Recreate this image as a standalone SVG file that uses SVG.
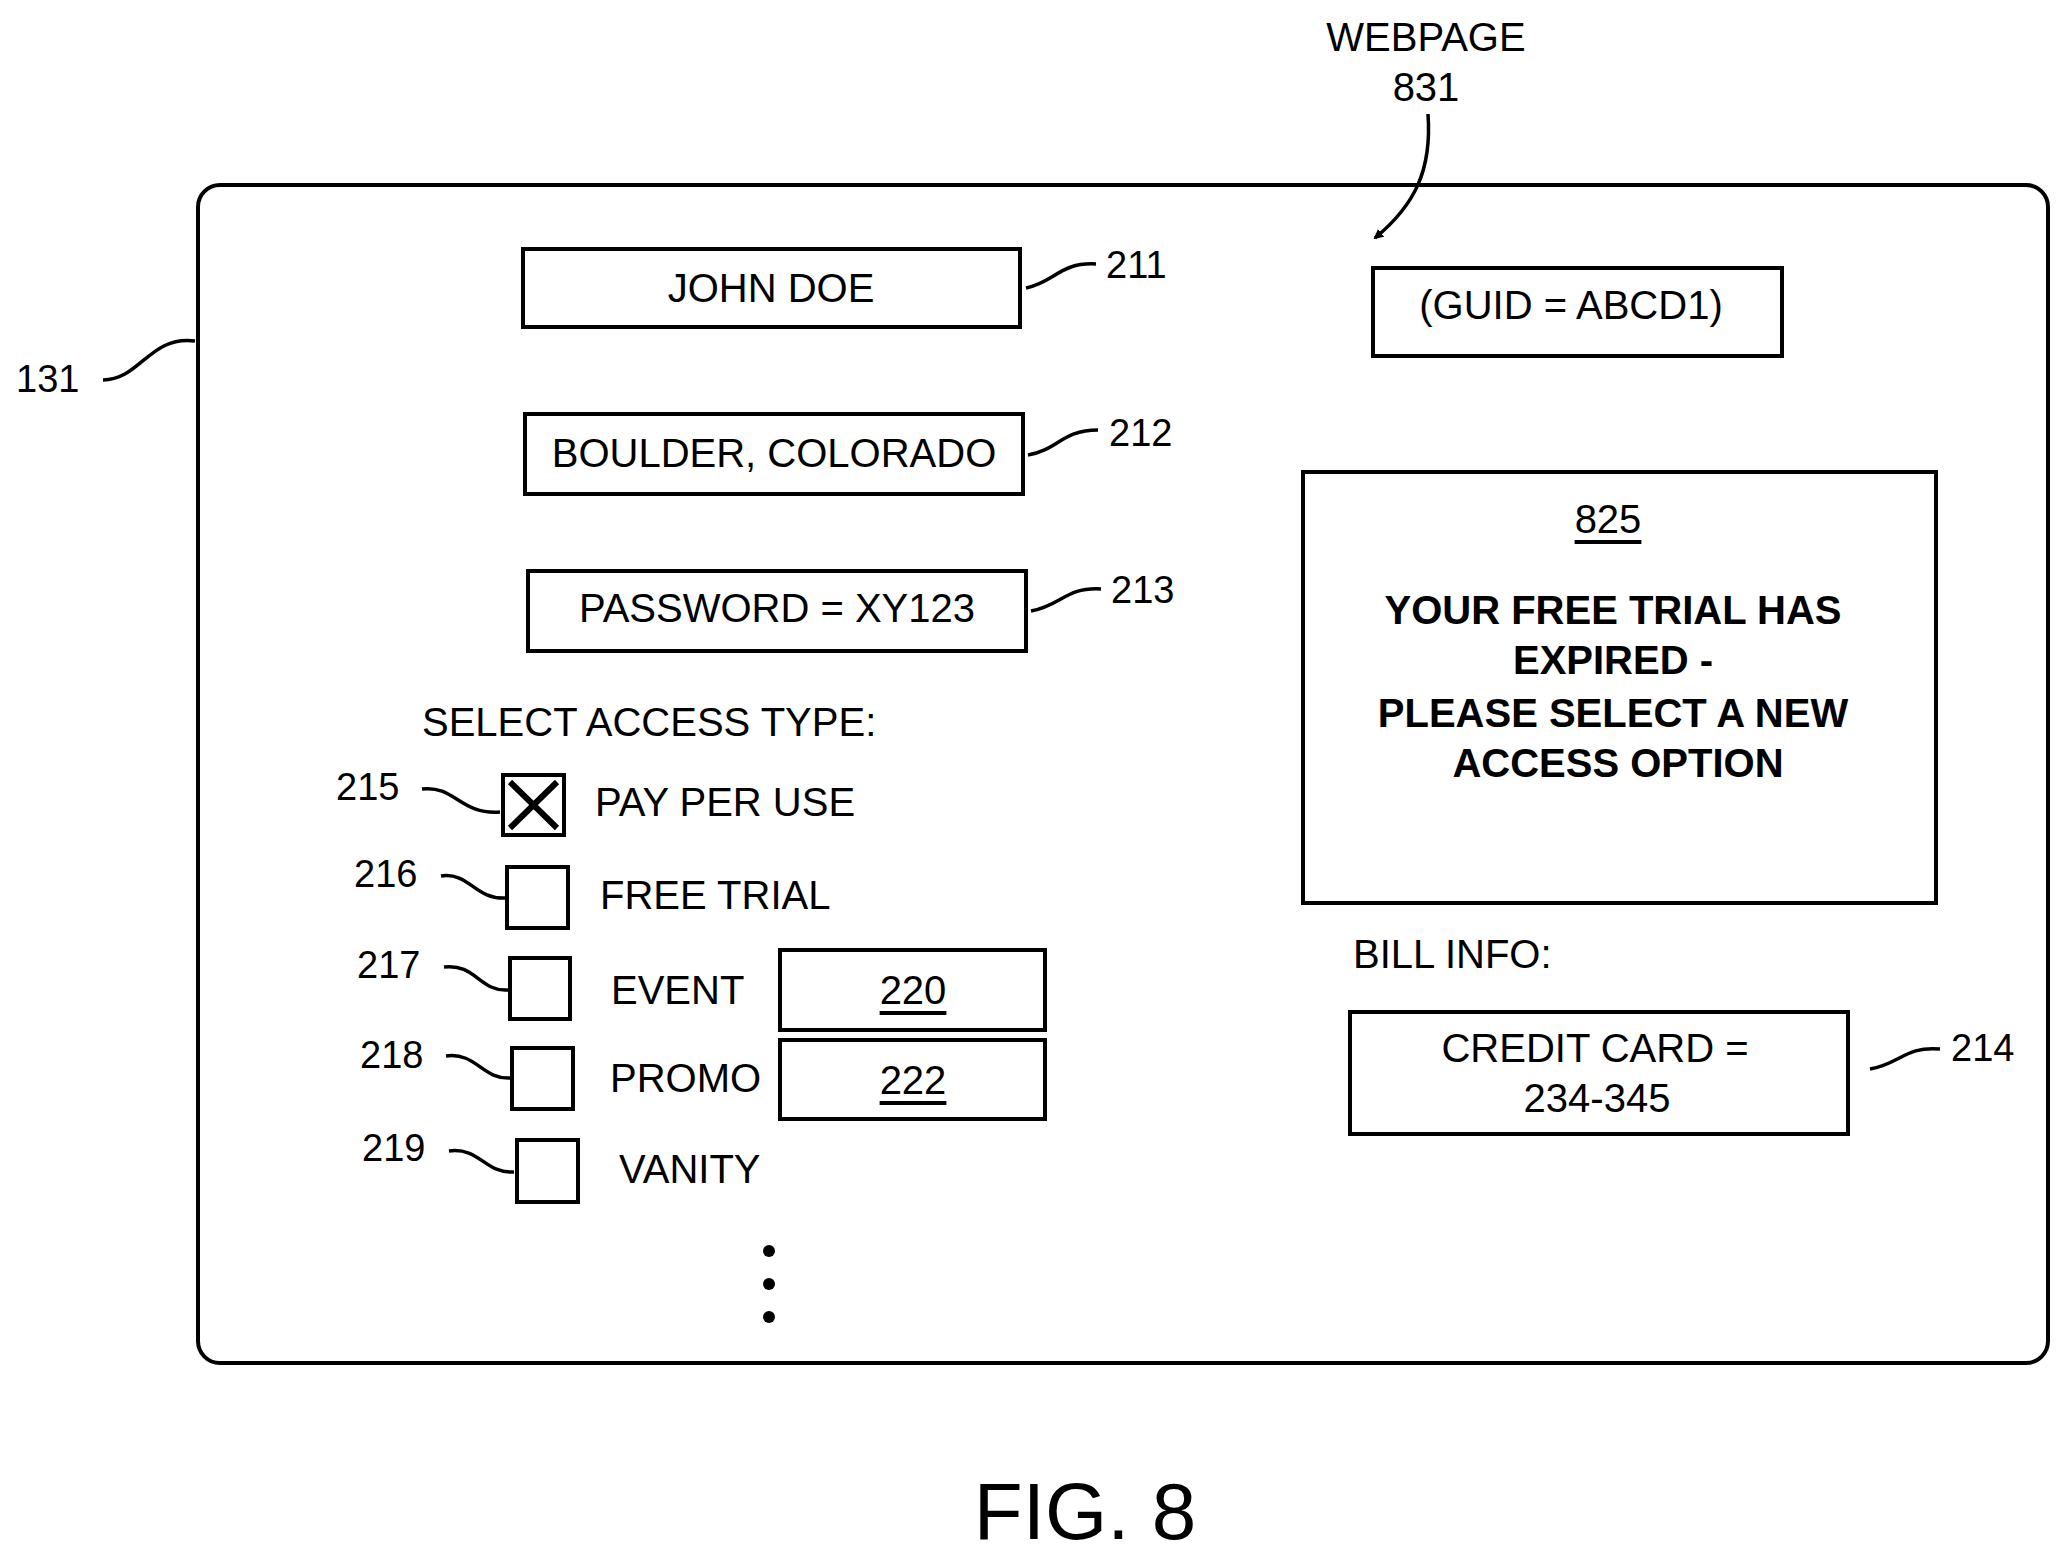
<svg xmlns="http://www.w3.org/2000/svg" width="2069" height="1558" viewBox="0 0 2069 1558">
<defs>
<style>
text{font-family:"Liberation Sans",Arial,sans-serif;fill:#000;dominant-baseline:central}
.t{font-size:40px}
.l{font-size:38px}
.b{font-size:40px;font-weight:bold;text-anchor:middle}
.m{text-anchor:middle}
.box{fill:#fff;stroke:#000;stroke-width:4}
.ld{fill:none;stroke:#000;stroke-width:3.5}
</style>
<marker id="ah" markerWidth="10" markerHeight="10" refX="8" refY="5" orient="auto" markerUnits="userSpaceOnUse" viewBox="0 0 10 10"><path d="M0,0L10,5L0,10z"/></marker>
</defs>
<rect width="2069" height="1558" fill="#fff"/>
<g id="frame"><rect x="198" y="185" width="1850" height="1178" rx="22" class="box"/></g>
<g id="webpage"><text class="t m" x="1426" y="37">WEBPAGE</text><text class="t m" x="1426" y="87">831</text></g>
<g id="n211"><rect x="523" y="249" width="497" height="78" class="box"/><text class="t m" x="771" y="288">JOHN DOE</text><text class="l" x="1106" y="265">211</text></g>
<g id="n212"><rect x="525" y="414" width="498" height="80" class="box"/><text class="t m" x="774" y="453">BOULDER, COLORADO</text><text class="l" x="1109" y="433">212</text></g>
<g id="n213"><rect x="528" y="571" width="498" height="80" class="box"/><text class="t m" x="777" y="608">PASSWORD = XY123</text><text class="l" x="1111" y="590">213</text></g>
<g id="guid"><rect x="1373" y="268" width="409" height="88" class="box"/><text class="t m" x="1571" y="305">(GUID = ABCD1)</text></g>
<g id="n825"><rect x="1303" y="472" width="633" height="431" class="box"/><text class="t m" x="1608" y="519" text-decoration="underline">825</text>
<text class="b" x="1613" y="610">YOUR FREE TRIAL HAS</text><text class="b" x="1613" y="660">EXPIRED -</text><text class="b" x="1613" y="713">PLEASE SELECT A NEW</text><text class="b" x="1618" y="763">ACCESS OPTION</text></g>
<g id="bill"><text class="t" x="1353" y="954">BILL INFO:</text><rect x="1350" y="1012" width="498" height="122" class="box"/><text class="t m" x="1595" y="1048">CREDIT CARD =</text><text class="t m" x="1597" y="1098">234-345</text><text class="l" x="1951" y="1048">214</text></g>
<g id="n131"><text class="l" x="16" y="379">131</text></g>
<g id="access"><text class="t" x="422" y="722">SELECT ACCESS TYPE:</text></g>
<g id="n215"><rect x="503" y="775" width="61" height="60" class="box" stroke-width="5"/><path d="M510,782L557,828M557,782L510,828" stroke="#000" stroke-width="6"/><text class="t" x="595" y="802">PAY PER USE</text><text class="l" x="336" y="787">215</text></g>
<g id="n216"><rect x="507" y="867" width="61" height="61" class="box"/><text class="t" x="600" y="895">FREE TRIAL</text><text class="l" x="354" y="874">216</text></g>
<g id="n217"><rect x="510" y="958" width="60" height="61" class="box"/><text class="t" x="611" y="990">EVENT</text><text class="l" x="357" y="965">217</text><rect x="780" y="950" width="265" height="80" class="box"/><text class="t m" x="913" y="990" text-decoration="underline">220</text></g>
<g id="n218"><rect x="512" y="1048" width="61" height="61" class="box"/><text class="t" x="610" y="1078">PROMO</text><text class="l" x="360" y="1055">218</text><rect x="780" y="1040" width="265" height="79" class="box"/><text class="t m" x="913" y="1080" text-decoration="underline">222</text></g>
<g id="n219"><rect x="517" y="1140" width="61" height="62" class="box"/><text class="t" x="619" y="1169">VANITY</text><text class="l" x="362" y="1148">219</text></g>
<g id="dots"><circle cx="769" cy="1251" r="6"/><circle cx="769" cy="1284" r="6"/><circle cx="769" cy="1317" r="6"/></g>
<g id="connectors">
<path class="ld" d="M1428,114C1432,170 1415,205 1375,238" marker-end="url(#ah)"/>
<path class="ld" d="M1026,288C1055,282 1060,262 1096,264"/>
<path class="ld" d="M1028,455C1058,450 1062,430 1098,430"/>
<path class="ld" d="M1031,611C1061,606 1065,587 1101,589"/>
<path class="ld" d="M1870,1069C1900,1064 1905,1046 1940,1049"/>
<path class="ld" d="M103,380C140,380 150,335 195,341"/>
<path class="ld" d="M422,789C455,785 460,815 500,812"/>
<path class="ld" d="M441,876C470,872 475,900 506,898"/>
<path class="ld" d="M444,967C475,963 480,992 508,990"/>
<path class="ld" d="M446,1056C477,1052 482,1080 511,1078"/>
<path class="ld" d="M449,1151C480,1147 485,1174 514,1172"/>
</g>
<text x="1085" y="1511" font-size="80" class="m">FIG. 8</text>
</svg>
